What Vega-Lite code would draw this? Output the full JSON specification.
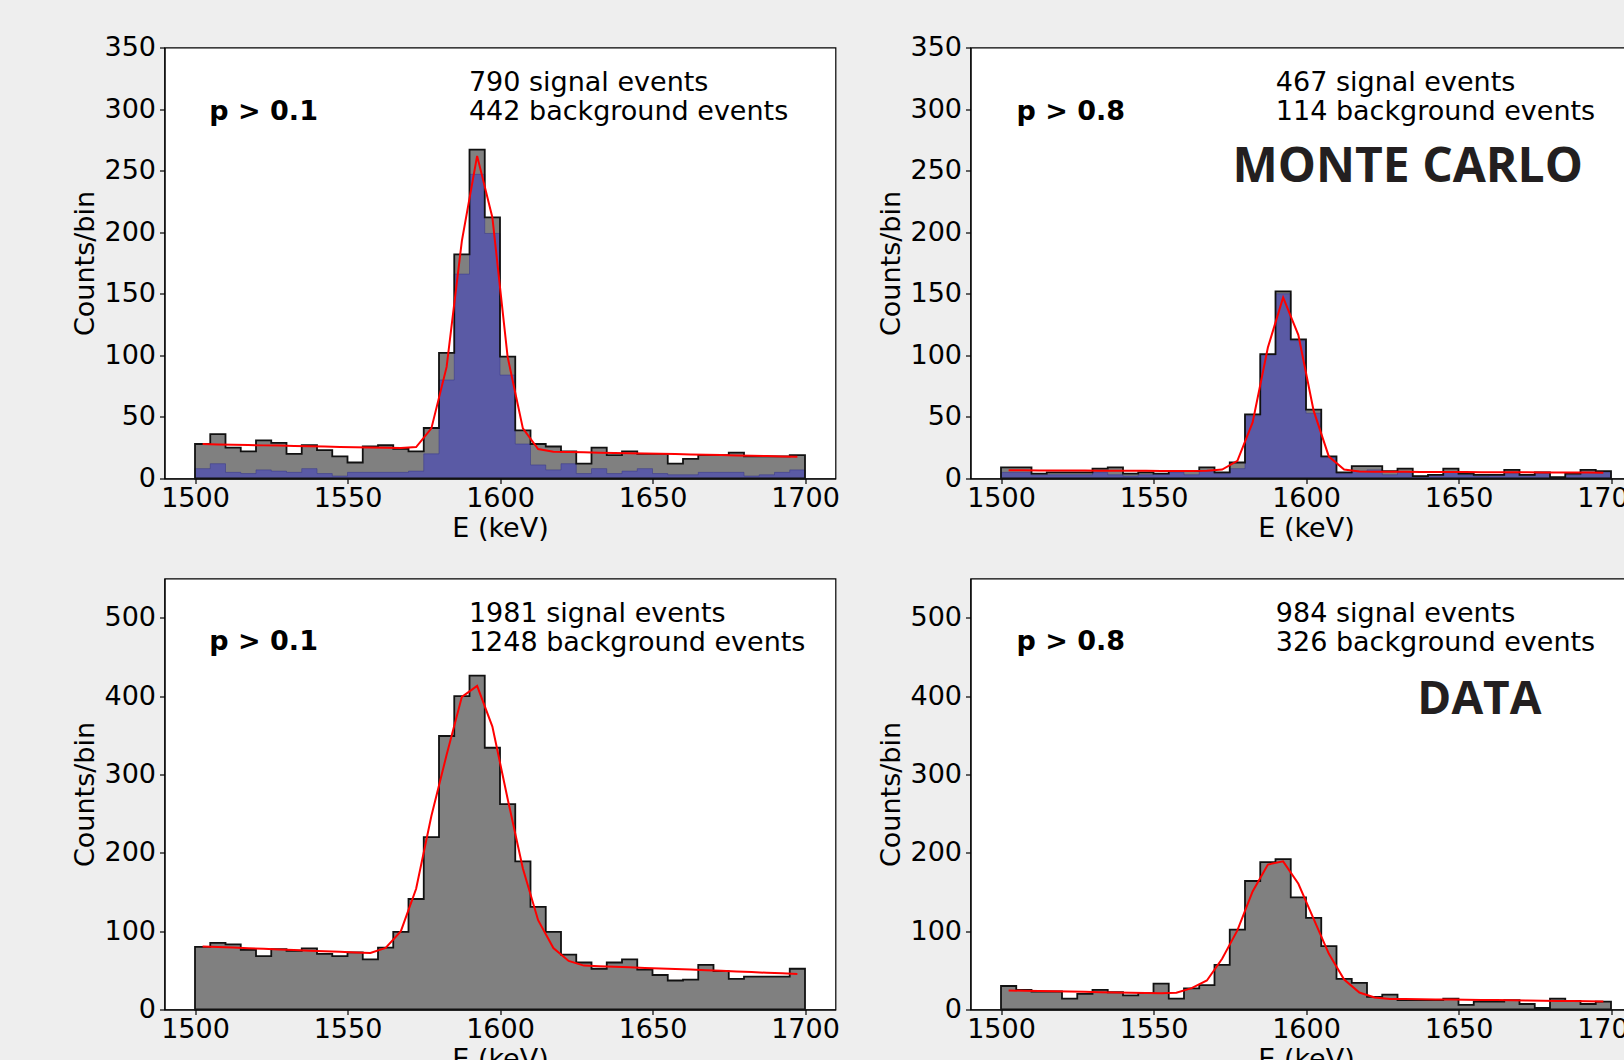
{
  "$schema": "https://vega.github.io/schema/vega-lite/v6.json",
  "background": "#eeeeee",
  "padding": {"left": 70.5, "top": 32.5, "right": 0, "bottom": 0},
  "config": {
    "font": "DejaVu Sans",
    "view": {"stroke": "#000000", "strokeWidth": 1.2, "fill": "#ffffff"},
    "axis": {"grid": false, "labelFont": "DejaVu Sans", "labelFontSize": 27, "labelColor": "#000000", "titleFont": "DejaVu Sans", "titleFontSize": 27, "titleFontWeight": "normal", "titleColor": "#000000", "tickColor": "#000000", "tickSize": 5, "tickWidth": 1.2, "domainColor": "#000000", "domainWidth": 1.2, "labelFlush": false, "labelOverlap": false},
    "axisX": {"labelPadding": 2, "titlePadding": 4},
    "axisY": {"labelPadding": 4, "titlePadding": 10, "titleBaseline": "alphabetic"}
  },
  "datasets": {
    "mc1": [
      {"E":1502.5,"lo":1500,"hi":1505,"total":28,"signal":8,"fit":28.0},
      {"E":1507.5,"lo":1505,"hi":1510,"total":36,"signal":12,"fit":27.7},
      {"E":1512.5,"lo":1510,"hi":1515,"total":25,"signal":5,"fit":27.5},
      {"E":1517.5,"lo":1515,"hi":1520,"total":22,"signal":4,"fit":27.2},
      {"E":1522.5,"lo":1520,"hi":1525,"total":31,"signal":7,"fit":26.9},
      {"E":1527.5,"lo":1525,"hi":1530,"total":29,"signal":6,"fit":26.7},
      {"E":1532.5,"lo":1530,"hi":1535,"total":20,"signal":5,"fit":26.4},
      {"E":1537.5,"lo":1535,"hi":1540,"total":27,"signal":8,"fit":26.1},
      {"E":1542.5,"lo":1540,"hi":1545,"total":23,"signal":4,"fit":25.9},
      {"E":1547.5,"lo":1545,"hi":1550,"total":18,"signal":2,"fit":25.6},
      {"E":1552.5,"lo":1550,"hi":1555,"total":13,"signal":5,"fit":25.4},
      {"E":1557.5,"lo":1555,"hi":1560,"total":26,"signal":5,"fit":25.1},
      {"E":1562.5,"lo":1560,"hi":1565,"total":27,"signal":5,"fit":24.9},
      {"E":1567.5,"lo":1565,"hi":1570,"total":24,"signal":5,"fit":24.8},
      {"E":1572.5,"lo":1570,"hi":1575,"total":22,"signal":6,"fit":25.5},
      {"E":1577.5,"lo":1575,"hi":1580,"total":41,"signal":20,"fit":40.7},
      {"E":1582.5,"lo":1580,"hi":1585,"total":102,"signal":80,"fit":90.6},
      {"E":1587.5,"lo":1585,"hi":1590,"total":182,"signal":166,"fit":193},
      {"E":1592.5,"lo":1590,"hi":1595,"total":267,"signal":247,"fit":262},
      {"E":1597.5,"lo":1595,"hi":1600,"total":212,"signal":199,"fit":212},
      {"E":1602.5,"lo":1600,"hi":1605,"total":99,"signal":84,"fit":98.7},
      {"E":1607.5,"lo":1605,"hi":1610,"total":39,"signal":28,"fit":40.7},
      {"E":1612.5,"lo":1610,"hi":1615,"total":28,"signal":11,"fit":23.9},
      {"E":1617.5,"lo":1615,"hi":1620,"total":26,"signal":7,"fit":21.8},
      {"E":1622.5,"lo":1620,"hi":1625,"total":22,"signal":12,"fit":21.6},
      {"E":1627.5,"lo":1625,"hi":1630,"total":12,"signal":4,"fit":21.3},
      {"E":1632.5,"lo":1630,"hi":1635,"total":25,"signal":8,"fit":21.0},
      {"E":1637.5,"lo":1635,"hi":1640,"total":19,"signal":4,"fit":20.8},
      {"E":1642.5,"lo":1640,"hi":1645,"total":22,"signal":6,"fit":20.5},
      {"E":1647.5,"lo":1645,"hi":1650,"total":20,"signal":8,"fit":20.3},
      {"E":1652.5,"lo":1650,"hi":1655,"total":20,"signal":4,"fit":20.0},
      {"E":1657.5,"lo":1655,"hi":1660,"total":12,"signal":3,"fit":19.8},
      {"E":1662.5,"lo":1660,"hi":1665,"total":16,"signal":3,"fit":19.5},
      {"E":1667.5,"lo":1665,"hi":1670,"total":19,"signal":5,"fit":19.2},
      {"E":1672.5,"lo":1670,"hi":1675,"total":19,"signal":5,"fit":19.0},
      {"E":1677.5,"lo":1675,"hi":1680,"total":21,"signal":5,"fit":18.7},
      {"E":1682.5,"lo":1680,"hi":1685,"total":18,"signal":2,"fit":18.5},
      {"E":1687.5,"lo":1685,"hi":1690,"total":18,"signal":3,"fit":18.2},
      {"E":1692.5,"lo":1690,"hi":1695,"total":18,"signal":5,"fit":17.9},
      {"E":1697.5,"lo":1695,"hi":1700,"total":19,"signal":7,"fit":17.7}
    ],
    "mc8": [
      {"E":1502.5,"lo":1500,"hi":1505,"total":9,"signal":5,"fit":6.6},
      {"E":1507.5,"lo":1505,"hi":1510,"total":9,"signal":5,"fit":6.6},
      {"E":1512.5,"lo":1510,"hi":1515,"total":4,"signal":3,"fit":6.5},
      {"E":1517.5,"lo":1515,"hi":1520,"total":5,"signal":3,"fit":6.5},
      {"E":1522.5,"lo":1520,"hi":1525,"total":5,"signal":3,"fit":6.4},
      {"E":1527.5,"lo":1525,"hi":1530,"total":5,"signal":3,"fit":6.4},
      {"E":1532.5,"lo":1530,"hi":1535,"total":8,"signal":5,"fit":6.3},
      {"E":1537.5,"lo":1535,"hi":1540,"total":9,"signal":3,"fit":6.3},
      {"E":1542.5,"lo":1540,"hi":1545,"total":4,"signal":2,"fit":6.2},
      {"E":1547.5,"lo":1545,"hi":1550,"total":5,"signal":3,"fit":6.2},
      {"E":1552.5,"lo":1550,"hi":1555,"total":4,"signal":4,"fit":6.1},
      {"E":1557.5,"lo":1555,"hi":1560,"total":6,"signal":5,"fit":6.1},
      {"E":1562.5,"lo":1560,"hi":1565,"total":6,"signal":3,"fit":6.1},
      {"E":1567.5,"lo":1565,"hi":1570,"total":9,"signal":6,"fit":6.2},
      {"E":1572.5,"lo":1570,"hi":1575,"total":5,"signal":4,"fit":7.3},
      {"E":1577.5,"lo":1575,"hi":1580,"total":13,"signal":8,"fit":14.3},
      {"E":1582.5,"lo":1580,"hi":1585,"total":52,"signal":51,"fit":45.6},
      {"E":1587.5,"lo":1585,"hi":1590,"total":101,"signal":100,"fit":106.4},
      {"E":1592.5,"lo":1590,"hi":1595,"total":152,"signal":150,"fit":147},
      {"E":1597.5,"lo":1595,"hi":1600,"total":113,"signal":112,"fit":116.4},
      {"E":1602.5,"lo":1600,"hi":1605,"total":56,"signal":53,"fit":55.1},
      {"E":1607.5,"lo":1605,"hi":1610,"total":18,"signal":17,"fit":17.8},
      {"E":1612.5,"lo":1610,"hi":1615,"total":5,"signal":4,"fit":7.3},
      {"E":1617.5,"lo":1615,"hi":1620,"total":10,"signal":6,"fit":5.7},
      {"E":1622.5,"lo":1620,"hi":1625,"total":10,"signal":7,"fit":5.5},
      {"E":1627.5,"lo":1625,"hi":1630,"total":6,"signal":3,"fit":5.4},
      {"E":1632.5,"lo":1630,"hi":1635,"total":8,"signal":5,"fit":5.4},
      {"E":1637.5,"lo":1635,"hi":1640,"total":2,"signal":2,"fit":5.3},
      {"E":1642.5,"lo":1640,"hi":1645,"total":3,"signal":3,"fit":5.3},
      {"E":1647.5,"lo":1645,"hi":1650,"total":8,"signal":5,"fit":5.2},
      {"E":1652.5,"lo":1650,"hi":1655,"total":4,"signal":3,"fit":5.2},
      {"E":1657.5,"lo":1655,"hi":1660,"total":3,"signal":2,"fit":5.1},
      {"E":1662.5,"lo":1660,"hi":1665,"total":3,"signal":3,"fit":5.1},
      {"E":1667.5,"lo":1665,"hi":1670,"total":7,"signal":4,"fit":5.0},
      {"E":1672.5,"lo":1670,"hi":1675,"total":3,"signal":3,"fit":5.0},
      {"E":1677.5,"lo":1675,"hi":1680,"total":5,"signal":5,"fit":4.9},
      {"E":1682.5,"lo":1680,"hi":1685,"total":1,"signal":1,"fit":4.9},
      {"E":1687.5,"lo":1685,"hi":1690,"total":4,"signal":3,"fit":4.8},
      {"E":1692.5,"lo":1690,"hi":1695,"total":7,"signal":5,"fit":4.8},
      {"E":1697.5,"lo":1695,"hi":1700,"total":6,"signal":5,"fit":4.7}
    ],
    "d1": [
      {"E":1502.5,"lo":1500,"hi":1505,"total":80,"fit":80.5},
      {"E":1507.5,"lo":1505,"hi":1510,"total":85,"fit":79.7},
      {"E":1512.5,"lo":1510,"hi":1515,"total":83,"fit":79.0},
      {"E":1517.5,"lo":1515,"hi":1520,"total":76,"fit":78.2},
      {"E":1522.5,"lo":1520,"hi":1525,"total":68,"fit":77.4},
      {"E":1527.5,"lo":1525,"hi":1530,"total":77,"fit":76.7},
      {"E":1532.5,"lo":1530,"hi":1535,"total":75,"fit":75.9},
      {"E":1537.5,"lo":1535,"hi":1540,"total":78,"fit":75.1},
      {"E":1542.5,"lo":1540,"hi":1545,"total":71,"fit":74.4},
      {"E":1547.5,"lo":1545,"hi":1550,"total":68,"fit":73.6},
      {"E":1552.5,"lo":1550,"hi":1555,"total":73,"fit":72.8},
      {"E":1557.5,"lo":1555,"hi":1560,"total":64,"fit":72.2},
      {"E":1562.5,"lo":1560,"hi":1565,"total":79,"fit":78.5},
      {"E":1567.5,"lo":1565,"hi":1570,"total":99,"fit":100},
      {"E":1572.5,"lo":1570,"hi":1575,"total":141,"fit":154},
      {"E":1577.5,"lo":1575,"hi":1580,"total":220,"fit":247},
      {"E":1582.5,"lo":1580,"hi":1585,"total":349,"fit":325},
      {"E":1587.5,"lo":1585,"hi":1590,"total":400,"fit":399},
      {"E":1592.5,"lo":1590,"hi":1595,"total":426,"fit":413},
      {"E":1597.5,"lo":1595,"hi":1600,"total":334,"fit":361},
      {"E":1602.5,"lo":1600,"hi":1605,"total":262,"fit":269},
      {"E":1607.5,"lo":1605,"hi":1610,"total":189,"fit":180},
      {"E":1612.5,"lo":1610,"hi":1615,"total":131,"fit":114},
      {"E":1617.5,"lo":1615,"hi":1620,"total":99,"fit":78.5},
      {"E":1622.5,"lo":1620,"hi":1625,"total":70,"fit":62},
      {"E":1627.5,"lo":1625,"hi":1630,"total":60,"fit":56},
      {"E":1632.5,"lo":1630,"hi":1635,"total":52,"fit":55.3},
      {"E":1637.5,"lo":1635,"hi":1640,"total":60,"fit":54.6},
      {"E":1642.5,"lo":1640,"hi":1645,"total":64,"fit":53.9},
      {"E":1647.5,"lo":1645,"hi":1650,"total":51,"fit":53.1},
      {"E":1652.5,"lo":1650,"hi":1655,"total":44,"fit":52.4},
      {"E":1657.5,"lo":1655,"hi":1660,"total":37,"fit":51.6},
      {"E":1662.5,"lo":1660,"hi":1665,"total":38,"fit":50.9},
      {"E":1667.5,"lo":1665,"hi":1670,"total":57,"fit":50.1},
      {"E":1672.5,"lo":1670,"hi":1675,"total":49,"fit":49.3},
      {"E":1677.5,"lo":1675,"hi":1680,"total":39,"fit":48.5},
      {"E":1682.5,"lo":1680,"hi":1685,"total":42,"fit":47.7},
      {"E":1687.5,"lo":1685,"hi":1690,"total":42,"fit":46.9},
      {"E":1692.5,"lo":1690,"hi":1695,"total":42,"fit":46.2},
      {"E":1697.5,"lo":1695,"hi":1700,"total":52,"fit":45.3}
    ],
    "d8": [
      {"E":1502.5,"lo":1500,"hi":1505,"total":30,"fit":24.3},
      {"E":1507.5,"lo":1505,"hi":1510,"total":25,"fit":23.9},
      {"E":1512.5,"lo":1510,"hi":1515,"total":23,"fit":23.6},
      {"E":1517.5,"lo":1515,"hi":1520,"total":23,"fit":23.2},
      {"E":1522.5,"lo":1520,"hi":1525,"total":14,"fit":22.9},
      {"E":1527.5,"lo":1525,"hi":1530,"total":20,"fit":22.5},
      {"E":1532.5,"lo":1530,"hi":1535,"total":25,"fit":22.1},
      {"E":1537.5,"lo":1535,"hi":1540,"total":22,"fit":21.8},
      {"E":1542.5,"lo":1540,"hi":1545,"total":18,"fit":21.4},
      {"E":1547.5,"lo":1545,"hi":1550,"total":21,"fit":21.0},
      {"E":1552.5,"lo":1550,"hi":1555,"total":33,"fit":20.7},
      {"E":1557.5,"lo":1555,"hi":1560,"total":14,"fit":21.3},
      {"E":1562.5,"lo":1560,"hi":1565,"total":27,"fit":27.2},
      {"E":1567.5,"lo":1565,"hi":1570,"total":31,"fit":37},
      {"E":1572.5,"lo":1570,"hi":1575,"total":57,"fit":64.7},
      {"E":1577.5,"lo":1575,"hi":1580,"total":102,"fit":100.9},
      {"E":1582.5,"lo":1580,"hi":1585,"total":164,"fit":150.6},
      {"E":1587.5,"lo":1585,"hi":1590,"total":188,"fit":185},
      {"E":1592.5,"lo":1590,"hi":1595,"total":192,"fit":189},
      {"E":1597.5,"lo":1595,"hi":1600,"total":143,"fit":160.4},
      {"E":1602.5,"lo":1600,"hi":1605,"total":117,"fit":115.7},
      {"E":1607.5,"lo":1605,"hi":1610,"total":81,"fit":71.1},
      {"E":1612.5,"lo":1610,"hi":1615,"total":39,"fit":38.3},
      {"E":1617.5,"lo":1615,"hi":1620,"total":34,"fit":21.7},
      {"E":1622.5,"lo":1620,"hi":1625,"total":16,"fit":15.3},
      {"E":1627.5,"lo":1625,"hi":1630,"total":19,"fit":13.5},
      {"E":1632.5,"lo":1630,"hi":1635,"total":12,"fit":13.3},
      {"E":1637.5,"lo":1635,"hi":1640,"total":12,"fit":13.1},
      {"E":1642.5,"lo":1640,"hi":1645,"total":12,"fit":12.9},
      {"E":1647.5,"lo":1645,"hi":1650,"total":14,"fit":12.7},
      {"E":1652.5,"lo":1650,"hi":1655,"total":6,"fit":12.4},
      {"E":1657.5,"lo":1655,"hi":1660,"total":10,"fit":12.2},
      {"E":1662.5,"lo":1660,"hi":1665,"total":10,"fit":12.0},
      {"E":1667.5,"lo":1665,"hi":1670,"total":12,"fit":11.7},
      {"E":1672.5,"lo":1670,"hi":1675,"total":7,"fit":11.5},
      {"E":1677.5,"lo":1675,"hi":1680,"total":2,"fit":11.2},
      {"E":1682.5,"lo":1680,"hi":1685,"total":14,"fit":11.0},
      {"E":1687.5,"lo":1685,"hi":1690,"total":11,"fit":10.7},
      {"E":1692.5,"lo":1690,"hi":1695,"total":7,"fit":10.4},
      {"E":1697.5,"lo":1695,"hi":1700,"total":10,"fit":10.1}
    ]
  },
  "columns": 2,
  "bounds": "flush",
  "spacing": {"row": 100, "column": 135},
  "concat": [
    {
      "width": 671, "height": 431,
      "data": {"name": "mc1"},
      "layer": [
        {
          "transform": [{"fold": ["lo", "hi"], "as": ["side", "edge"]}],
          "mark": {"type": "area", "color": "#808080", "interpolate": "linear"},
          "encoding": {
            "x": {"field": "edge", "type": "quantitative", "scale": {"domain": [1490, 1710], "nice": false, "zero": false}, "axis": {"title": "E (keV)", "format": "d", "values": [1500, 1550, 1600, 1650, 1700]}},
            "y": {"field": "total", "type": "quantitative", "stack": null, "scale": {"domain": [0, 350], "nice": false}, "axis": {"title": "Counts/bin", "values": [0, 50, 100, 150, 200, 250, 300, 350]}},
            "order": {"value": null}
          }
        },
        {
          "transform": [{"fold": ["lo", "hi"], "as": ["side", "edge"]}],
          "mark": {"type": "area", "fill": "#5a5aa5", "stroke": "#3c3c8c", "strokeWidth": 0.6, "interpolate": "linear"},
          "encoding": {
            "x": {"field": "edge", "type": "quantitative", "scale": {"domain": [1490, 1710], "nice": false, "zero": false}, "axis": {"title": "E (keV)", "format": "d", "values": [1500, 1550, 1600, 1650, 1700]}},
            "y": {"field": "signal", "type": "quantitative", "stack": null, "scale": {"domain": [0, 350], "nice": false}, "axis": {"title": "Counts/bin", "values": [0, 50, 100, 150, 200, 250, 300, 350]}},
            "order": {"value": null}
          }
        },
        {
          "transform": [{"fold": ["lo", "hi"], "as": ["side", "edge"]}],
          "mark": {"type": "area", "fillOpacity": 0, "stroke": "#111111", "strokeWidth": 1.8, "interpolate": "linear"},
          "encoding": {
            "x": {"field": "edge", "type": "quantitative", "scale": {"domain": [1490, 1710], "nice": false, "zero": false}, "axis": {"title": "E (keV)", "format": "d", "values": [1500, 1550, 1600, 1650, 1700]}},
            "y": {"field": "total", "type": "quantitative", "stack": null, "scale": {"domain": [0, 350], "nice": false}, "axis": {"title": "Counts/bin", "values": [0, 50, 100, 150, 200, 250, 300, 350]}},
            "order": {"value": null}
          }
        },
        {
          "mark": {"type": "line", "color": "#ff0000", "strokeWidth": 2},
          "encoding": {
            "x": {"field": "E", "type": "quantitative", "scale": {"domain": [1490, 1710], "nice": false, "zero": false}, "axis": {"title": "E (keV)", "format": "d", "values": [1500, 1550, 1600, 1650, 1700]}},
            "y": {"field": "fit", "type": "quantitative", "scale": {"domain": [0, 350], "nice": false}, "axis": {"title": "Counts/bin", "values": [0, 50, 100, 150, 200, 250, 300, 350]}}
          }
        },
        {
          "data": {"values": [{"E": 1504.7, "count": 291.5, "label": "p > 0.1"}]},
          "mark": {"type": "text", "font": "DejaVu Sans", "fontSize": 27, "fontWeight": "bold", "align": "left", "baseline": "alphabetic", "color": "#000000"},
          "encoding": {
            "x": {"field": "E", "type": "quantitative", "scale": {"domain": [1490, 1710], "nice": false, "zero": false}, "axis": {"title": "E (keV)", "format": "d", "values": [1500, 1550, 1600, 1650, 1700]}},
            "y": {"field": "count", "type": "quantitative", "scale": {"domain": [0, 350], "nice": false}, "axis": {"title": "Counts/bin", "values": [0, 50, 100, 150, 200, 250, 300, 350]}},
            "text": {"field": "label"}
          }
        },
        {
          "data": {"values": [{"E": 1589.8, "count": 314.7, "label": "790 signal events"}, {"E": 1589.8, "count": 291.2, "label": "442 background events"}]},
          "mark": {"type": "text", "font": "DejaVu Sans", "fontSize": 27, "align": "left", "baseline": "alphabetic", "color": "#000000"},
          "encoding": {
            "x": {"field": "E", "type": "quantitative", "scale": {"domain": [1490, 1710], "nice": false, "zero": false}, "axis": {"title": "E (keV)", "format": "d", "values": [1500, 1550, 1600, 1650, 1700]}},
            "y": {"field": "count", "type": "quantitative", "scale": {"domain": [0, 350], "nice": false}, "axis": {"title": "Counts/bin", "values": [0, 50, 100, 150, 200, 250, 300, 350]}},
            "text": {"field": "label"}
          }
        }
      ]
    },
    {
      "width": 671, "height": 431,
      "data": {"name": "mc8"},
      "layer": [
        {
          "transform": [{"fold": ["lo", "hi"], "as": ["side", "edge"]}],
          "mark": {"type": "area", "color": "#808080", "interpolate": "linear"},
          "encoding": {
            "x": {"field": "edge", "type": "quantitative", "scale": {"domain": [1490, 1710], "nice": false, "zero": false}, "axis": {"title": "E (keV)", "format": "d", "values": [1500, 1550, 1600, 1650, 1700]}},
            "y": {"field": "total", "type": "quantitative", "stack": null, "scale": {"domain": [0, 350], "nice": false}, "axis": {"title": "Counts/bin", "values": [0, 50, 100, 150, 200, 250, 300, 350]}},
            "order": {"value": null}
          }
        },
        {
          "transform": [{"fold": ["lo", "hi"], "as": ["side", "edge"]}],
          "mark": {"type": "area", "fill": "#5a5aa5", "stroke": "#3c3c8c", "strokeWidth": 0.6, "interpolate": "linear"},
          "encoding": {
            "x": {"field": "edge", "type": "quantitative", "scale": {"domain": [1490, 1710], "nice": false, "zero": false}, "axis": {"title": "E (keV)", "format": "d", "values": [1500, 1550, 1600, 1650, 1700]}},
            "y": {"field": "signal", "type": "quantitative", "stack": null, "scale": {"domain": [0, 350], "nice": false}, "axis": {"title": "Counts/bin", "values": [0, 50, 100, 150, 200, 250, 300, 350]}},
            "order": {"value": null}
          }
        },
        {
          "transform": [{"fold": ["lo", "hi"], "as": ["side", "edge"]}],
          "mark": {"type": "area", "fillOpacity": 0, "stroke": "#111111", "strokeWidth": 1.8, "interpolate": "linear"},
          "encoding": {
            "x": {"field": "edge", "type": "quantitative", "scale": {"domain": [1490, 1710], "nice": false, "zero": false}, "axis": {"title": "E (keV)", "format": "d", "values": [1500, 1550, 1600, 1650, 1700]}},
            "y": {"field": "total", "type": "quantitative", "stack": null, "scale": {"domain": [0, 350], "nice": false}, "axis": {"title": "Counts/bin", "values": [0, 50, 100, 150, 200, 250, 300, 350]}},
            "order": {"value": null}
          }
        },
        {
          "mark": {"type": "line", "color": "#ff0000", "strokeWidth": 2},
          "encoding": {
            "x": {"field": "E", "type": "quantitative", "scale": {"domain": [1490, 1710], "nice": false, "zero": false}, "axis": {"title": "E (keV)", "format": "d", "values": [1500, 1550, 1600, 1650, 1700]}},
            "y": {"field": "fit", "type": "quantitative", "scale": {"domain": [0, 350], "nice": false}, "axis": {"title": "Counts/bin", "values": [0, 50, 100, 150, 200, 250, 300, 350]}}
          }
        },
        {
          "data": {"values": [{"E": 1505.1, "count": 291.5, "label": "p > 0.8"}]},
          "mark": {"type": "text", "font": "DejaVu Sans", "fontSize": 27, "fontWeight": "bold", "align": "left", "baseline": "alphabetic", "color": "#000000"},
          "encoding": {
            "x": {"field": "E", "type": "quantitative", "scale": {"domain": [1490, 1710], "nice": false, "zero": false}, "axis": {"title": "E (keV)", "format": "d", "values": [1500, 1550, 1600, 1650, 1700]}},
            "y": {"field": "count", "type": "quantitative", "scale": {"domain": [0, 350], "nice": false}, "axis": {"title": "Counts/bin", "values": [0, 50, 100, 150, 200, 250, 300, 350]}},
            "text": {"field": "label"}
          }
        },
        {
          "data": {"values": [{"E": 1590.1, "count": 314.7, "label": "467 signal events"}, {"E": 1590.1, "count": 291.2, "label": "114 background events"}]},
          "mark": {"type": "text", "font": "DejaVu Sans", "fontSize": 27, "align": "left", "baseline": "alphabetic", "color": "#000000"},
          "encoding": {
            "x": {"field": "E", "type": "quantitative", "scale": {"domain": [1490, 1710], "nice": false, "zero": false}, "axis": {"title": "E (keV)", "format": "d", "values": [1500, 1550, 1600, 1650, 1700]}},
            "y": {"field": "count", "type": "quantitative", "scale": {"domain": [0, 350], "nice": false}, "axis": {"title": "Counts/bin", "values": [0, 50, 100, 150, 200, 250, 300, 350]}},
            "text": {"field": "label"}
          }
        },
        {
          "data": {"values": [{"E": 1575.9, "count": 240.5, "label": "MONTE CARLO"}]},
          "mark": {"type": "text", "font": "Open Sans", "fontSize": 48, "fontWeight": "bold", "align": "left", "baseline": "alphabetic", "color": "#231f20"},
          "encoding": {
            "x": {"field": "E", "type": "quantitative", "scale": {"domain": [1490, 1710], "nice": false, "zero": false}, "axis": {"title": "E (keV)", "format": "d", "values": [1500, 1550, 1600, 1650, 1700]}},
            "y": {"field": "count", "type": "quantitative", "scale": {"domain": [0, 350], "nice": false}, "axis": {"title": "Counts/bin", "values": [0, 50, 100, 150, 200, 250, 300, 350]}},
            "text": {"field": "label"}
          }
        }
      ]
    },
    {
      "width": 671, "height": 431,
      "data": {"name": "d1"},
      "layer": [
        {
          "transform": [{"fold": ["lo", "hi"], "as": ["side", "edge"]}],
          "mark": {"type": "area", "color": "#808080", "stroke": "#111111", "strokeWidth": 1.8, "interpolate": "linear"},
          "encoding": {
            "x": {"field": "edge", "type": "quantitative", "scale": {"domain": [1490, 1710], "nice": false, "zero": false}, "axis": {"title": "E (keV)", "format": "d", "values": [1500, 1550, 1600, 1650, 1700]}},
            "y": {"field": "total", "type": "quantitative", "stack": null, "scale": {"domain": [0, 550], "nice": false}, "axis": {"title": "Counts/bin", "values": [0, 100, 200, 300, 400, 500]}},
            "order": {"value": null}
          }
        },
        {
          "mark": {"type": "line", "color": "#ff0000", "strokeWidth": 2},
          "encoding": {
            "x": {"field": "E", "type": "quantitative", "scale": {"domain": [1490, 1710], "nice": false, "zero": false}, "axis": {"title": "E (keV)", "format": "d", "values": [1500, 1550, 1600, 1650, 1700]}},
            "y": {"field": "fit", "type": "quantitative", "scale": {"domain": [0, 550], "nice": false}, "axis": {"title": "Counts/bin", "values": [0, 100, 200, 300, 400, 500]}}
          }
        },
        {
          "data": {"values": [{"E": 1504.7, "count": 458.5, "label": "p > 0.1"}]},
          "mark": {"type": "text", "font": "DejaVu Sans", "fontSize": 27, "fontWeight": "bold", "align": "left", "baseline": "alphabetic", "color": "#000000"},
          "encoding": {
            "x": {"field": "E", "type": "quantitative", "scale": {"domain": [1490, 1710], "nice": false, "zero": false}, "axis": {"title": "E (keV)", "format": "d", "values": [1500, 1550, 1600, 1650, 1700]}},
            "y": {"field": "count", "type": "quantitative", "scale": {"domain": [0, 550], "nice": false}, "axis": {"title": "Counts/bin", "values": [0, 100, 200, 300, 400, 500]}},
            "text": {"field": "label"}
          }
        },
        {
          "data": {"values": [{"E": 1589.8, "count": 494.6, "label": "1981 signal events"}, {"E": 1589.8, "count": 457.5, "label": "1248 background events"}]},
          "mark": {"type": "text", "font": "DejaVu Sans", "fontSize": 27, "align": "left", "baseline": "alphabetic", "color": "#000000"},
          "encoding": {
            "x": {"field": "E", "type": "quantitative", "scale": {"domain": [1490, 1710], "nice": false, "zero": false}, "axis": {"title": "E (keV)", "format": "d", "values": [1500, 1550, 1600, 1650, 1700]}},
            "y": {"field": "count", "type": "quantitative", "scale": {"domain": [0, 550], "nice": false}, "axis": {"title": "Counts/bin", "values": [0, 100, 200, 300, 400, 500]}},
            "text": {"field": "label"}
          }
        }
      ]
    },
    {
      "width": 671, "height": 431,
      "data": {"name": "d8"},
      "layer": [
        {
          "transform": [{"fold": ["lo", "hi"], "as": ["side", "edge"]}],
          "mark": {"type": "area", "color": "#808080", "stroke": "#111111", "strokeWidth": 1.8, "interpolate": "linear"},
          "encoding": {
            "x": {"field": "edge", "type": "quantitative", "scale": {"domain": [1490, 1710], "nice": false, "zero": false}, "axis": {"title": "E (keV)", "format": "d", "values": [1500, 1550, 1600, 1650, 1700]}},
            "y": {"field": "total", "type": "quantitative", "stack": null, "scale": {"domain": [0, 550], "nice": false}, "axis": {"title": "Counts/bin", "values": [0, 100, 200, 300, 400, 500]}},
            "order": {"value": null}
          }
        },
        {
          "mark": {"type": "line", "color": "#ff0000", "strokeWidth": 2},
          "encoding": {
            "x": {"field": "E", "type": "quantitative", "scale": {"domain": [1490, 1710], "nice": false, "zero": false}, "axis": {"title": "E (keV)", "format": "d", "values": [1500, 1550, 1600, 1650, 1700]}},
            "y": {"field": "fit", "type": "quantitative", "scale": {"domain": [0, 550], "nice": false}, "axis": {"title": "Counts/bin", "values": [0, 100, 200, 300, 400, 500]}}
          }
        },
        {
          "data": {"values": [{"E": 1505.1, "count": 458.5, "label": "p > 0.8"}]},
          "mark": {"type": "text", "font": "DejaVu Sans", "fontSize": 27, "fontWeight": "bold", "align": "left", "baseline": "alphabetic", "color": "#000000"},
          "encoding": {
            "x": {"field": "E", "type": "quantitative", "scale": {"domain": [1490, 1710], "nice": false, "zero": false}, "axis": {"title": "E (keV)", "format": "d", "values": [1500, 1550, 1600, 1650, 1700]}},
            "y": {"field": "count", "type": "quantitative", "scale": {"domain": [0, 550], "nice": false}, "axis": {"title": "Counts/bin", "values": [0, 100, 200, 300, 400, 500]}},
            "text": {"field": "label"}
          }
        },
        {
          "data": {"values": [{"E": 1590.1, "count": 494.6, "label": "984 signal events"}, {"E": 1590.1, "count": 457.5, "label": "326 background events"}]},
          "mark": {"type": "text", "font": "DejaVu Sans", "fontSize": 27, "align": "left", "baseline": "alphabetic", "color": "#000000"},
          "encoding": {
            "x": {"field": "E", "type": "quantitative", "scale": {"domain": [1490, 1710], "nice": false, "zero": false}, "axis": {"title": "E (keV)", "format": "d", "values": [1500, 1550, 1600, 1650, 1700]}},
            "y": {"field": "count", "type": "quantitative", "scale": {"domain": [0, 550], "nice": false}, "axis": {"title": "Counts/bin", "values": [0, 100, 200, 300, 400, 500]}},
            "text": {"field": "label"}
          }
        },
        {
          "data": {"values": [{"E": 1636.5, "count": 377, "label": "DATA"}]},
          "mark": {"type": "text", "font": "Open Sans", "fontSize": 46, "fontWeight": "bold", "align": "left", "baseline": "alphabetic", "color": "#231f20"},
          "encoding": {
            "x": {"field": "E", "type": "quantitative", "scale": {"domain": [1490, 1710], "nice": false, "zero": false}, "axis": {"title": "E (keV)", "format": "d", "values": [1500, 1550, 1600, 1650, 1700]}},
            "y": {"field": "count", "type": "quantitative", "scale": {"domain": [0, 550], "nice": false}, "axis": {"title": "Counts/bin", "values": [0, 100, 200, 300, 400, 500]}},
            "text": {"field": "label"}
          }
        }
      ]
    }
  ]
}
